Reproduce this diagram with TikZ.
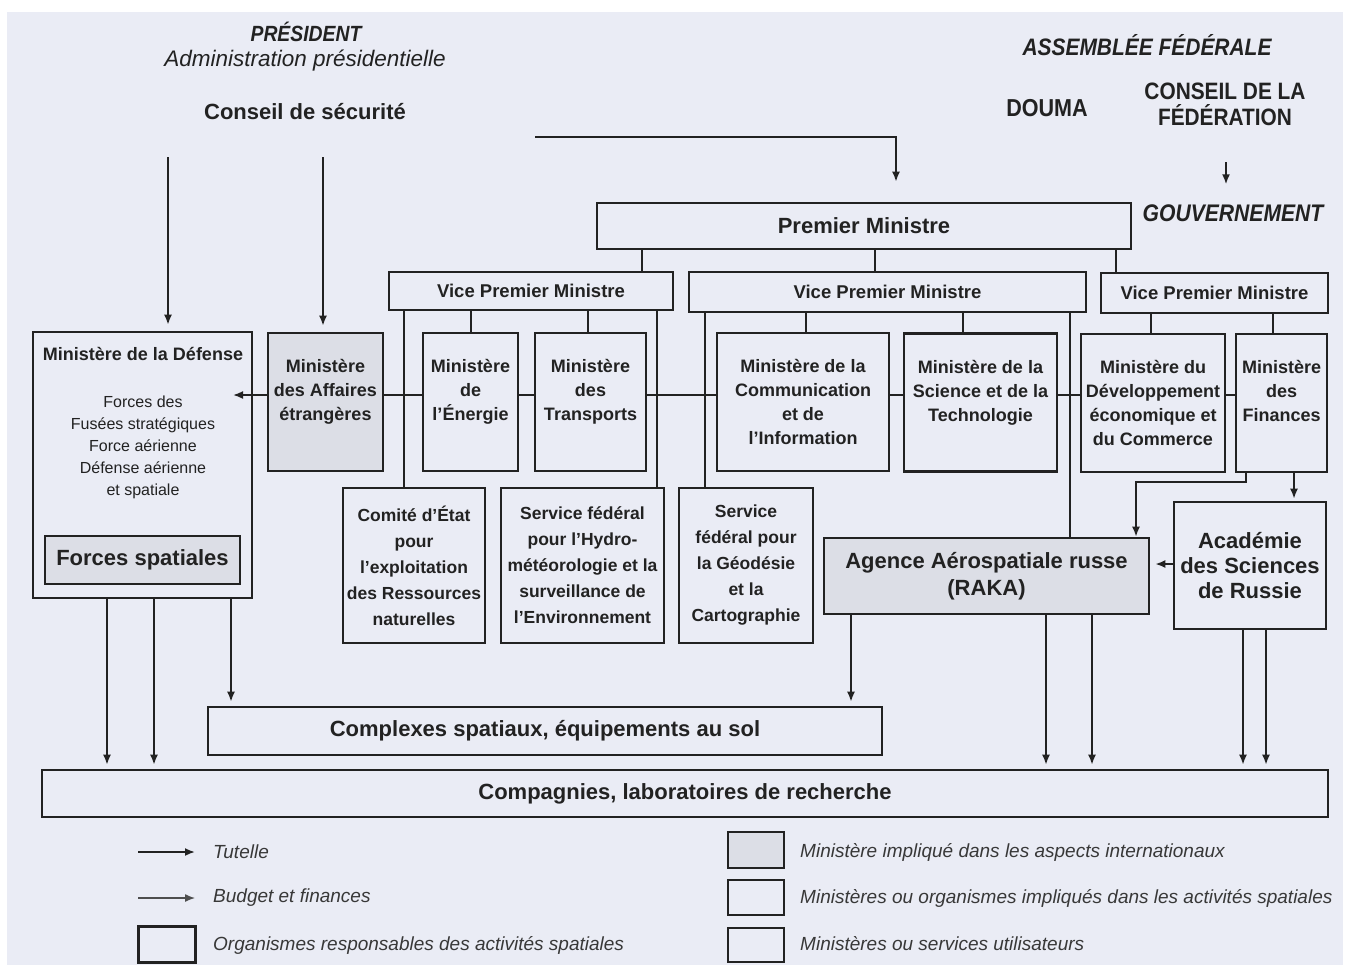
\documentclass[tikz,border=0pt]{standalone}
\usepackage{fontspec}
\setmainfont{Liberation Sans}
\newfontfamily\condfont{Liberation Sans}[FakeStretch=0.88]
\usetikzlibrary{arrows.meta}
\definecolor{fond}{HTML}{EAECF5}
\definecolor{grise}{HTML}{DCDEE6}
\definecolor{ink}{HTML}{222222}
\newcommand{\taille}[2]{\fontsize{#1}{#2}\selectfont}

\begin{document}
\begin{tikzpicture}[x=1pt,y=-1pt,
    >={Latex[length=10pt,width=8pt]},
    hd/.style={inner sep=0pt,text=ink,align=center},
    box/.style={rectangle,draw=ink,line width=2.6pt,fill=fond,text=ink,align=center,
        inner sep=2pt,font=\taille{18}{24}\bfseries},
    mini/.style={box,minimum height=138pt},
    serv/.style={box,minimum height=155pt,font=\taille{17.5}{26}\bfseries},
    vpm/.style={box,font=\taille{18.5}{22}\bfseries},
    big/.style={box,font=\taille{22}{26}\bfseries},
    intl/.style={fill=grise},
    link/.style={draw=ink,line width=1.8pt},
    tut/.style={link,->},
    leg/.style={inner sep=0pt,anchor=west,text=ink!90,font=\taille{19}{22}\itshape}]
\useasboundingbox (0,0) rectangle (1346,969);
\fill[fond] (7,12) rectangle (1343,965);

% en-tetes
\node[hd,font=\condfont\taille{22}{24}\bfseries\itshape] (pres) at (306,32) {PRÉSIDENT};
\node[hd,font=\taille{22.5}{24}\itshape] (adm) at (305,61) {Administration présidentielle};
\node[hd,font=\taille{22}{26}\bfseries] (secu) at (305,112) {Conseil de sécurité};
\node[hd,font=\condfont\taille{23.8}{26}\bfseries\itshape] (assf) at (1147,45) {ASSEMBLÉE FÉDÉRALE};
\node[hd,font=\condfont\taille{24.5}{26}\bfseries] (douma) at (1047,108) {DOUMA};
\node[hd,font=\condfont\taille{23.7}{26}\bfseries] (cf) at (1225,104) {CONSEIL DE LA\\FÉDÉRATION};
\node[hd,font=\condfont\taille{24}{26}\bfseries\itshape] (gouv) at (1233,213) {GOUVERNEMENT};

% gouvernement
\node[big,minimum width=534pt,minimum height=46pt] (pm) at (864,226) {Premier Ministre};
\node[vpm,minimum width=284pt,minimum height=38pt] (vp1) at (531,291) {Vice Premier Ministre};
\node[vpm,minimum width=397pt,minimum height=40pt] (vp2) at (887.5,292) {Vice Premier Ministre};
\node[vpm,minimum width=227pt,minimum height=40pt] (vp3) at (1214.5,293) {Vice Premier Ministre};

% ministeres
\node[box,minimum width=219pt,minimum height=266pt] (def) at (142.5,465) {};
\node[hd,font=\taille{18}{24}\bfseries] (deft) at (143,354) {Ministère de la Défense};
\node[hd,font=\taille{16}{22}] (defc) at (143,447) {Forces des\\Fusées stratégiques\\Force aérienne\\Défense aérienne\\et spatiale};
\node[big,intl,line width=2pt,minimum width=195pt,minimum height=48pt] (fs) at (142.5,560) {Forces spatiales};
\node[mini,intl,minimum width=115pt] (aff) at (325.5,402) {Ministère\\des Affaires\\étrangères\\~};
\node[mini,minimum width=95pt] (en) at (470.5,402) {Ministère\\de\\l'Énergie\\~};
\node[mini,minimum width=111pt] (tr) at (590.5,402) {Ministère\\des\\Transports\\~};
\node[mini,minimum width=172pt] (com) at (803,402) {Ministère de la\\Communication\\et de\\l'Information};
\node[mini,minimum width=153pt] (sci) at (980.5,402.5) {Ministère de la\\Science et de la\\Technologie\\~};
\node[mini,minimum width=144pt] (dev) at (1153,403) {Ministère du\\Développement\\économique et\\du Commerce};
\node[mini,minimum width=91pt] (fin) at (1281.5,403) {Ministère\\des\\Finances\\~};

% services
\node[serv,minimum width=142pt] (cet) at (414,565.5) {Comité d'État\\pour\\l'exploitation\\des Ressources\\naturelles};
\node[serv,minimum width=163pt] (hyd) at (582.5,565.5) {Service fédéral\\pour l'Hydro-\\météorologie et la\\surveillance de\\l'Environnement};
\node[serv,minimum width=134pt] (geo) at (746,565.5) {Service\\fédéral pour\\la Géodésie\\et la\\Cartographie};
\node[big,intl,minimum width=325pt,minimum height=76pt,font=\taille{22}{27}\bfseries] (raka) at (986.5,576) {Agence Aérospatiale russe\\(RAKA)};
\node[big,minimum width=152pt,minimum height=127pt,font=\taille{22}{25}\bfseries] (acad) at (1250,565.5) {Académie\\des Sciences\\de Russie};
\node[big,minimum width=674pt,minimum height=48pt] (cplx) at (545,731) {Complexes spatiaux, équipements au sol};
\node[big,minimum width=1286pt,minimum height=47pt] (comp) at (685,793.5) {Compagnies, laboratoires de recherche};

% liaisons
\coordinate (a1) at (168,157);
\coordinate (a2) at (323,157);
\coordinate (a3) at (535,137);
\coordinate (f1) at (1226,162);
\coordinate (defin) at (233,395);
\draw[tut,shorten >=6pt] (a1) -- (def.north -| a1);
\draw[tut,shorten >=6pt] (a2) -- (aff.north -| a2);
\draw[tut,shorten >=20pt] (a3) -| (pm.north -| 896,0);
\draw[tut,shorten >=20pt] (f1) -- (gouv.north -| f1);
\draw[link] (pm.south -| 642,0) -- (vp1.north -| 642,0);
\draw[link] (pm.south -| 875,0) -- (vp2.north -| 875,0);
\draw[link] (pm.south -| 1116,0) -- (vp3.north -| 1116,0);
\draw[link] (vp1.south -| 404,0) -- (cet.north -| 404,0);
\draw[link] (vp1.south -| 471,0) -- (en.north -| 471,0);
\draw[link] (vp1.south -| 588,0) -- (tr.north -| 588,0);
\draw[link] (vp1.south -| 657,0) -- (hyd.north -| 657,0);
\draw[link] (vp2.south -| 705,0) -- (geo.north -| 705,0);
\draw[link] (vp2.south -| 806,0) -- (com.north -| 806,0);
\draw[link] (vp2.south -| 963,0) -- (sci.north -| 963,0);
\draw[link] (vp2.south -| 1070,0) -- (raka.north -| 1070,0);
\draw[link] (vp3.south -| 1151,0) -- (dev.north -| 1151,0);
\draw[link] (vp3.south -| 1273,0) -- (fin.north -| 1273,0);
\draw[link] (aff.east |- 0,395) -- (en.west |- 0,395);
\draw[link] (en.east |- 0,395) -- (tr.west |- 0,395);
\draw[link] (tr.east |- 0,395) -- (com.west |- 0,395);
\draw[link] (com.east |- 0,395) -- (sci.west |- 0,395);
\draw[link] (sci.east |- 0,395) -- (dev.west |- 0,395);
\draw[link] (dev.east |- 0,395) -- (fin.west |- 0,395);
\draw[tut] (aff.west |- 0,395) -- (defin);
\draw[tut] (fin.south -| 1246,0) |- (1136,482) -- (raka.north -| 1136,0);
\draw[tut,shorten >=2pt] (fin.south -| 1294,0) -- (acad.north -| 1294,0);
\draw[tut,shorten >=5pt] (acad.west |- 0,564) -- (raka.east |- 0,564);
\draw[tut,shorten >=4pt] (def.south -| 107,0) -- (comp.north -| 107,0);
\draw[tut,shorten >=4pt] (def.south -| 154,0) -- (comp.north -| 154,0);
\draw[tut,shorten >=4pt] (def.south -| 231,0) -- (cplx.north -| 231,0);
\draw[tut,shorten >=4pt] (raka.south -| 851,0) -- (cplx.north -| 851,0);
\draw[tut,shorten >=4pt] (raka.south -| 1046,0) -- (comp.north -| 1046,0);
\draw[tut,shorten >=4pt] (raka.south -| 1092,0) -- (comp.north -| 1092,0);
\draw[tut,shorten >=4pt] (acad.south -| 1243,0) -- (comp.north -| 1243,0);
\draw[tut,shorten >=4pt] (acad.south -| 1266,0) -- (comp.north -| 1266,0);

% legende
\coordinate (lg1) at (138,852);
\coordinate (lg2) at (138,898);
\node[leg] (ltut) at (213,852) {Tutelle};
\node[leg] (lbud) at (213,898) {Budget et finances};
\draw[tut,shorten >=18pt] (lg1) -- (ltut.west |- lg1);
\draw[tut,line width=1.3pt,draw=ink!80,shorten >=18pt] (lg2) -- (lbud.west |- lg2);
\node[box,line width=3pt,minimum width=57pt,minimum height=36pt] (lb0) at (166.5,944) {};
\node[leg] (lorg) at (213,945) {Organismes responsables des activités spatiales};
\node[box,intl,line width=2.2pt,minimum width=56pt,minimum height=36pt] (lb1) at (756,850) {};
\node[leg] (lint) at (800,852) {Ministère impliqué dans les aspects internationaux};
\node[box,line width=2.2pt,minimum width=56pt,minimum height=35pt] (lb2) at (756,897.5) {};
\node[leg] (lspa) at (800,898) {Ministères ou organismes impliqués dans les activités spatiales};
\node[box,line width=2.2pt,minimum width=56pt,minimum height=34pt] (lb3) at (756,945) {};
\node[leg] (luti) at (800,944) {Ministères ou services utilisateurs};
\end{tikzpicture}
\end{document}
